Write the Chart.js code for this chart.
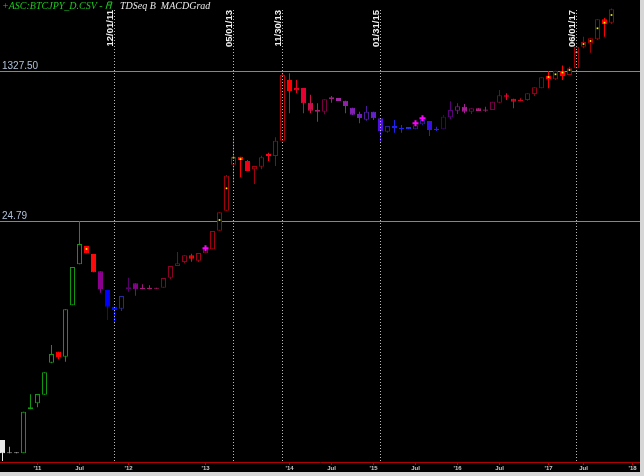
<!DOCTYPE html>
<html>
<head>
<meta charset="utf-8">
<script src="https://cdn.jsdelivr.net/npm/chart.js@4.4.1/dist/chart.umd.min.js"></script>
<style>
  html, body { margin: 0; padding: 0; background: #d6d6d6; }
  canvas { display: block; background: #000; }
</style>
</head>
<body>
<canvas id="chart" width="640" height="472"></canvas>
<script>
// monthly bars, index 0 = Aug 2010
const opens  = [0.0742,0.0521,0.0521,0.0521,0.1675,0.1965,0.247,0.577,0.773,0.677,2.647,7.86,12.77,10.33,6.52,3.97,2.55,2.418,4.05,4.75,4.19,4.22,4.19,4.22,5.51,7.51,8.35,9.97,8.64,10.52,11.70,19.16,32.6,110.4,136.6,121.8,97.7,104.7,146.7,139.1,208.8,1045,845.6,845.6,572.6,471.5,450.7,631.4,648.4,603.7,501.2,424,364.5,450.7,378.4,265.1,308.4,292.5,300.4,282.5,322.7,352.1,287.1,282.5,388.6,462.9,514.8,450.7,493.3,462.9,471.5,572.6,696.5,636.5,615,615,721,838.8,1172,1065,1327.5,1194,1426,2530,2768,3078,5233,4783];
const highs  = [0.0742,0.0621,0.0521,0.157,0.249,0.251,0.447,0.923,0.773,2.38,7.31,24.79,12.77,10.33,6.52,3.97,2.55,3.39,5.51,4.75,4.62,4.50,4.19,5.46,7.51,10.89,9.97,10.41,10.60,12.01,19.01,31.2,84.0,232,136.6,125.1,106.7,140.3,151.9,228.5,1260,1249,1045,845.6,707.8,563.4,626.3,683.8,648.4,603.7,501.2,450.7,524.3,450.7,378.4,308.4,361.6,316.7,300.4,314.2,361.6,352.1,302.8,413,594.1,563.4,552.9,493.3,493.3,514.8,587.9,801.7,734.5,636.5,643.3,734.5,861.3,1123,1327.5,1338,1536,1488,2530,3299,3162,5233,5417,6970];
const lows   = [0.0425,0.0521,0.0521,0.0521,0.1675,0.1767,0.247,0.568,0.631,0.593,2.647,7.86,10.52,6.35,3.70,1.79,1.61,2.275,3.80,3.42,4.05,4.05,4.11,4.22,5.28,7.51,8.07,8.42,8.35,10.52,11.70,19.16,32.6,67.4,79.1,93.4,66.2,97.7,121.8,106.7,208.8,432,734.5,432,432,345.7,420.7,572.6,598.8,432,413,331.3,354.9,361.6,194.9,258.2,258.2,258.2,282.5,282.5,314.2,236.5,270.1,282.5,368.4,424,432,424,459.2,450.7,471.5,563.4,615.0,493.3,594.1,603.7,683.8,838.8,838.8,1045,1045,1194,1426,2424,2158,3022,3299,4620];
const closes = [0.0521,0.0521,0.0521,0.157,0.1767,0.251,0.447,0.727,0.666,2.38,7.31,13.47,10.52,6.35,4.05,2.55,2.336,3.39,4.27,4.05,4.05,4.05,4.11,5.46,7.51,8.07,9.97,9.12,10.60,12.01,19.01,31.2,82.5,136.6,125.1,93.4,106.7,134.4,139.1,208.8,1194,780.6,795.5,563.4,461.6,450.7,626.3,660.6,598.8,524.3,416.3,381.3,450.7,378.4,270.1,308.4,292.5,282.5,282.5,314.2,361.6,277.3,277.3,394.8,471.5,520.3,450.7,493.3,459.2,477.9,587.9,696.5,671.2,587.9,594.1,734.5,861.3,1123,1073,1338,1163,1426,2530,2865,3162,5233,4620,6825];
const barColors = ['#e8e8e8','#a0a0a0','#a0a0a0','#109810','#109810','#109810','#109810','#109810','#ff0000','#109810','#109810','#109810','#ff0000','#ff0a0a','#8c0090','#0000ff','#0010ff','#2828a0','#58006a','#8a008e','#a0187a','#a81870','#b01868','#8a0030','#8a0028','#900020','#900020','#ff0000','#a00018','#a00018','#a00010','#a00008','#a00008','#a00008','#ff0000','#f20018','#a00010','#a00010','#ff0018','#a00010','#b00000','#ff0000','#e80020','#e80030','#c8104c','#a82070','#780040','#a01c80','#a028a0','#9020a8','#8020b0','#7020c0','#4c1c98','#6420d0','#5010e0','#2c1c9c','#2020f0','#2020ff','#2830e0','#2c1c9c','#2c1c9c','#3810e8','#3020d0','#3c0070','#5a0078','#6a1a78','#a02090','#780058','#b02080','#a01c70','#780048','#800030','#e80030','#e80020','#d00020','#900020','#900018','#900010','#ff0000','#a00010','#ff0000','#a00010','#a00000','#a00000','#a00000','#a00000','#ff0000','#a00000'];

// TD setup dots and crosses
const dotMonths = [12, 31, 32, 33, 34, 78, 79, 80, 81, 82, 83, 84, 85, 86, 87];
const dotValues = [11.8, 25.46, 59.0, 133, 128, 1132, 1216, 1276, 1363, 2181, 2718, 2943, 4122, 4783, 5867];
const crossMonths = [29, 59, 60];
const crossValues = [12.01, 331.3, 378.4];

// axis ticks
const tickMonths = [5, 11, 18, 29, 41, 47, 53, 59, 65, 71, 78, 83, 90];
const tickLabels = ["'11", 'Jul', "'12", "'13", "'14", 'Jul', "'15", 'Jul', "'16", 'Jul', "'17", 'Jul', "'18"];

// marker lines
const markerMonths = [16, 33, 40, 54, 82];
const markerLabels = ['12/01/11', '05/01/13', '11/30/13', '01/31/15', '06/01/17'];
const levelValues = [1327.50, 24.79];
const levelLabels = ['1327.50', '24.79'];

const overlay = {
    id: 'overlay',
    beforeDatasetsDraw(chart) {
        const ctx = chart.ctx;
        const area = chart.chartArea;
        const y = chart.scales.y;
        ctx.save();
        levelValues.forEach((v, i) => {
            const py = Math.round(y.getPixelForValue(v)) + 0.5;
            ctx.strokeStyle = '#7888a0';
            ctx.lineWidth = 1;
            ctx.beginPath();
            ctx.moveTo(area.left, py);
            ctx.lineTo(area.right, py);
            ctx.stroke();
            ctx.font = '10px "Liberation Sans"';
            ctx.fillStyle = '#b0c0d8';
            ctx.textAlign = 'left';
            ctx.fillText(levelLabels[i], 2, py - 3);
        });
        ctx.restore();
    },
    afterDatasetsDraw(chart) {
        const ctx = chart.ctx;
        const area = chart.chartArea;
        const x = chart.scales.x;
        ctx.save();
        markerMonths.forEach((m, i) => {
            const px = Math.floor(x.getPixelForValue(m)) + 0.5;
            ctx.strokeStyle = '#b8b8b8';
            ctx.lineWidth = 1;
            ctx.setLineDash([1, 2]);
            ctx.beginPath();
            ctx.moveTo(px, 10);
            ctx.lineTo(px, area.bottom);
            ctx.stroke();
            ctx.setLineDash([]);
            ctx.save();
            ctx.translate(px - 2, 10);
            ctx.rotate(-Math.PI / 2);
            ctx.font = 'bold 9.5px "Liberation Sans"';
            ctx.fillStyle = '#f0f0f0';
            ctx.textAlign = 'right';
            ctx.textBaseline = 'alphabetic';
            ctx.fillText(markerLabels[i], 0, 0);
            ctx.restore();
        });
        ctx.restore();
    },
    afterDraw(chart) {
        const ctx = chart.ctx;
        ctx.save();
        ctx.font = 'italic 10px "Liberation Serif"';
        ctx.textAlign = 'left';
        ctx.fillStyle = '#1ec81e';
        ctx.fillText('+ASC:BTCJPY_D.CSV - ', 2, 8.5);
        // small study icon
        ctx.strokeStyle = '#1ec81e';
        ctx.lineWidth = 1;
        ctx.beginPath();
        ctx.moveTo(106, 9); ctx.lineTo(108, 2); ctx.lineTo(112, 2); ctx.lineTo(110, 9);
        ctx.moveTo(107.5, 5); ctx.lineTo(111, 5);
        ctx.stroke();
        ctx.fillStyle = '#e8e8e8';
        ctx.fillText('TDSeq B  MACDGrad', 120, 8.5);
        ctx.restore();
    }
};

const idx = opens.map((v, i) => i);

new Chart(document.getElementById('chart'), {
    type: 'bar',
    data: {
        datasets: [
            {
                // wicks
                data: idx.map(i => ({ x: i, y: [lows[i], highs[i]] })),
                backgroundColor: barColors,
                borderWidth: 0,
                maxBarThickness: 1,
                minBarLength: 1,
                grouped: false,
                inflateAmount: 0,
                order: 3
            },
            {
                // bodies, filled when close < open
                data: idx.map(i => ({ x: i, y: [opens[i], closes[i]] })),
                backgroundColor: barColors.map((c, i) => closes[i] < opens[i] ? c : '#000000'),
                borderColor: barColors,
                borderWidth: 1,
                borderSkipped: false,
                maxBarThickness: 5,
                minBarLength: 1,
                grouped: false,
                inflateAmount: 0,
                order: 2
            },
            {
                type: 'scatter',
                data: dotMonths.map((m, i) => ({ x: m, y: dotValues[i] })),
                pointStyle: 'rect',
                pointRadius: 1.2,
                backgroundColor: '#ffff00',
                borderWidth: 0,
                order: 1
            },
            {
                type: 'scatter',
                data: crossMonths.map((m, i) => ({ x: m, y: crossValues[i] })),
                pointStyle: 'cross',
                pointRadius: 3,
                borderColor: '#ff00ff',
                borderWidth: 2,
                order: 0
            }
        ]
    },
    options: {
        responsive: false,
        animation: false,
        devicePixelRatio: 1,
        layout: { padding: 0, autoPadding: false },
        plugins: {
            legend: { display: false },
            title: { display: false },
            tooltip: { enabled: false }
        },
        scales: {
            x: {
                type: 'linear',
                min: -0.357,
                max: 91.071,
                offset: false,
                afterFit: (s) => { s.height = 10; },
                afterBuildTicks: (s) => { s.ticks = tickMonths.map(v => ({ value: v })); },
                ticks: {
                    autoSkip: false,
                    maxRotation: 0,
                    padding: 0,
                    color: '#c8c8c8',
                    font: { size: 6, weight: 'bold', family: 'Liberation Sans' },
                    callback: (v) => {
                        const k = tickMonths.indexOf(v);
                        return k >= 0 ? tickLabels[k] : '';
                    }
                },
                grid: { display: true, drawOnChartArea: false, drawTicks: true, tickLength: 3, color: '#b00000', offset: false },
                border: { display: true, color: '#b00000', width: 1 }
            },
            y: {
                type: 'logarithmic',
                min: 0.04138,
                max: 8735,
                bounds: 'data',
                display: false
            }
        }
    },
    plugins: [overlay]
});
</script>
</body>
</html>
